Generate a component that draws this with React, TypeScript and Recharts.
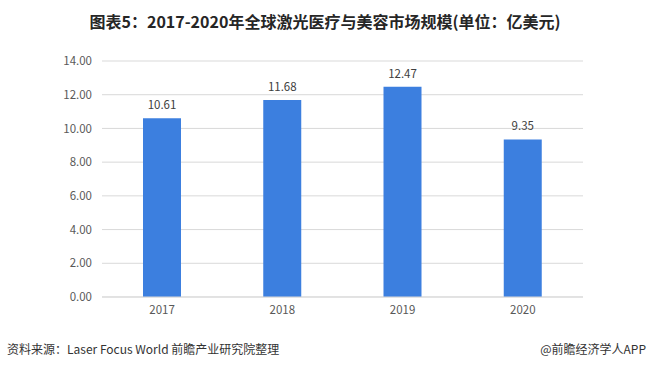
import React from 'react';
import { BarChart, Bar, XAxis, YAxis, CartesianGrid, LabelList } from 'recharts';

const categories = ['2017', '2018', '2019', '2020'];
const values = [10.61, 11.68, 12.47, 9.35];
const yTicks = [0, 2, 4, 6, 8, 10, 12, 14];

const data = categories.map((c, i) => ({ year: c, value: values[i] }));

const font = '"Noto Sans CJK SC", "Noto Sans", sans-serif';

export default function App() {
  return (
    <div style={{ position: 'absolute', left: 0, top: 0, width: 650, height: 371, background: '#fff', fontFamily: font }}>
      <div style={{ position: 'absolute', left: 0, top: 10, width: 650, textAlign: 'center', fontSize: 16, fontWeight: 700, color: '#262626', lineHeight: '22px' }}>
        图表5：2017-2020年全球激光医疗与美容市场规模(单位：亿美元)
      </div>
      <BarChart width={650} height={371} data={data} margin={{ top: 61, right: 67, bottom: 44, left: 0 }}>
        <CartesianGrid vertical={false} stroke="#d9d9d9" />
        <XAxis dataKey="year" axisLine={{ stroke: '#d9d9d9' }} tickLine={false} height={30} tick={{ fill: '#595959', fontSize: 11.5, fontFamily: font }} tickMargin={3} />
        <YAxis domain={[0, 14]} ticks={yTicks} axisLine={false} tickLine={false} width={102} tickMargin={4} tickFormatter={(v: number) => v.toFixed(2)} tick={{ fill: '#595959', fontSize: 11.5, fontFamily: font }} />
        <Bar dataKey="value" fill="#3c7fdf" barSize={38} isAnimationActive={false}>
          <LabelList dataKey="value" position="top" offset={9} formatter={(v: number) => v.toFixed(2)} style={{ fill: '#404040', fontSize: 11.5, fontFamily: font }} />
        </Bar>
      </BarChart>
      <div style={{ position: 'absolute', left: 7, top: 341, fontSize: 12, color: '#333', lineHeight: '16px' }}>
        资料来源：Laser Focus World 前瞻产业研究院整理
      </div>
      <div style={{ position: 'absolute', right: 4, top: 341, fontSize: 12, color: '#333', lineHeight: '16px' }}>
        @前瞻经济学人APP
      </div>
    </div>
  );
}
